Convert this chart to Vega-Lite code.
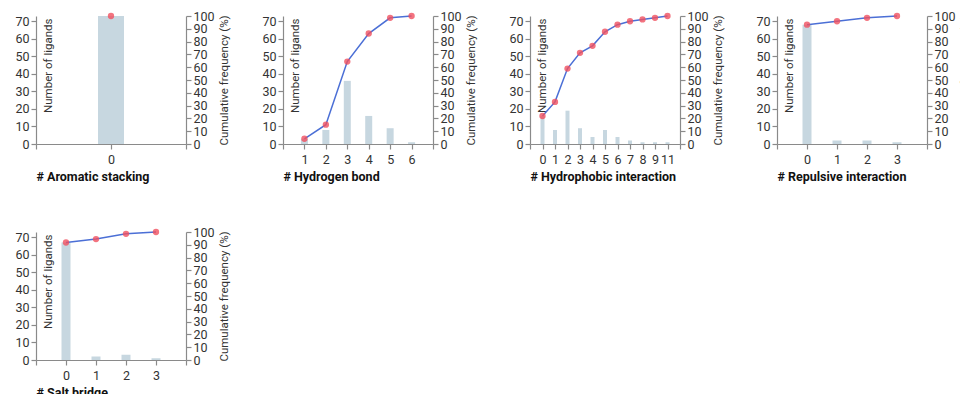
{
  "$schema": "https://vega.github.io/schema/vega-lite/v6.json",
  "padding": {"left": 14, "top": 10, "right": 5, "bottom": 5},
  "columns": 4,
  "spacing": {"row": 43, "column": 31},
  "config": {
    "view": {"stroke": null},
    "font": "Roboto, sans-serif",
    "axis": {
      "grid": false,
      "domainColor": "#8a8a8a",
      "tickColor": "#8a8a8a",
      "domainWidth": 1.2,
      "tickWidth": 1.2,
      "tickSize": 5,
      "labelFont": "Roboto, sans-serif",
      "labelFontSize": 12.5,
      "labelColor": "#333333",
      "labelPadding": 2,
      "titleFont": "Roboto, sans-serif",
      "titleFontWeight": "normal",
      "titleFontSize": 11.5,
      "titleColor": "#333333"
    }
  },
  "concat": [
    {
      "width": 150, "height": 128,
      "data": {"values": [{"n": "0", "count": 73, "cum": 100}]},
      "encoding": {"x": {"field": "n", "type": "ordinal", "sort": null,
        "scale": {"type": "point", "padding": 0, "domain": ["L", "0", "R"]},
        "axis": {"title": "# Aromatic stacking", "labelAngle": 0, "labelPadding": 4, "labelExpr": "datum.value == 'L' || datum.value == 'R' ? '' : datum.label", "titleFontWeight": "bold", "titleColor": "#111111", "titleFontSize": 12.5, "titleAnchor": "start", "titleAlign": "left", "titlePadding": 5}}},
      "layer": [
        {"mark": {"type": "bar", "size": 26, "color": "#c7d7e0"},
         "encoding": {"y": {"field": "count", "type": "quantitative", "scale": {"domain": [0, 73], "nice": false},
           "axis": {"values": [0, 10, 20, 30, 40, 50, 60, 70], "title": "Number of ligands", "titleAngle": -90, "titleX": 6, "titleY": 2, "titleAlign": "right", "titleBaseline": "top"}}}},
        {"encoding": {"y": {"field": "cum", "type": "quantitative", "scale": {"domain": [0, 100], "nice": false},
           "axis": {"orient": "right", "values": [0, 10, 20, 30, 40, 50, 60, 70, 80, 90, 100], "title": "Cumulative frequency (%)", "titleAngle": -90, "titleBaseline": "top", "titlePadding": 4}}},
         "layer": [
          {"mark": {"type": "line", "color": "#4b6fd6", "strokeWidth": 1.5}},
          {"mark": {"type": "point", "filled": true, "color": "#f0505f", "opacity": 0.8, "size": 40}}
         ]}
      ],
      "resolve": {"scale": {"y": "independent"}}
    },
    {
      "width": 150, "height": 128,
      "data": {"values": [
        {"n": "1", "count": 3, "cum": 4.1},
        {"n": "2", "count": 8, "cum": 15.1},
        {"n": "3", "count": 36, "cum": 64.4},
        {"n": "4", "count": 16, "cum": 86.3},
        {"n": "5", "count": 9, "cum": 98.6},
        {"n": "6", "count": 1, "cum": 100}
      ]},
      "encoding": {"x": {"field": "n", "type": "ordinal", "sort": null,
        "scale": {"type": "point", "padding": 0, "domain": ["L", "1", "2", "3", "4", "5", "6", "R"]},
        "axis": {"title": "# Hydrogen bond", "labelAngle": 0, "labelPadding": 4, "labelExpr": "datum.value == 'L' || datum.value == 'R' ? '' : datum.label", "titleFontWeight": "bold", "titleColor": "#111111", "titleFontSize": 12.5, "titleAnchor": "start", "titleAlign": "left", "titlePadding": 5}}},
      "layer": [
        {"mark": {"type": "bar", "size": 7, "color": "#c7d7e0"},
         "encoding": {"y": {"field": "count", "type": "quantitative", "scale": {"domain": [0, 73], "nice": false},
           "axis": {"values": [0, 10, 20, 30, 40, 50, 60, 70], "title": "Number of ligands", "titleAngle": -90, "titleX": 6, "titleY": 2, "titleAlign": "right", "titleBaseline": "top"}}}},
        {"encoding": {"y": {"field": "cum", "type": "quantitative", "scale": {"domain": [0, 100], "nice": false},
           "axis": {"orient": "right", "values": [0, 10, 20, 30, 40, 50, 60, 70, 80, 90, 100], "title": "Cumulative frequency (%)", "titleAngle": -90, "titleBaseline": "top", "titlePadding": 4}}},
         "layer": [
          {"mark": {"type": "line", "color": "#4b6fd6", "strokeWidth": 1.5}},
          {"mark": {"type": "point", "filled": true, "color": "#f0505f", "opacity": 0.8, "size": 40}}
         ]}
      ],
      "resolve": {"scale": {"y": "independent"}}
    },
    {
      "width": 150, "height": 128,
      "data": {"values": [
        {"n": "0", "count": 16, "cum": 21.9},
        {"n": "1", "count": 8, "cum": 32.9},
        {"n": "2", "count": 19, "cum": 58.9},
        {"n": "3", "count": 9, "cum": 71.2},
        {"n": "4", "count": 4, "cum": 76.7},
        {"n": "5", "count": 8, "cum": 87.7},
        {"n": "6", "count": 4, "cum": 93.2},
        {"n": "7", "count": 2, "cum": 95.9},
        {"n": "8", "count": 1, "cum": 97.3},
        {"n": "9", "count": 1, "cum": 98.6},
        {"n": "11", "count": 1, "cum": 100}
      ]},
      "encoding": {"x": {"field": "n", "type": "ordinal", "sort": null,
        "scale": {"type": "point", "padding": 0, "domain": ["L", "0", "1", "2", "3", "4", "5", "6", "7", "8", "9", "11", "R"]},
        "axis": {"title": "# Hydrophobic interaction", "labelAngle": 0, "labelPadding": 4, "labelExpr": "datum.value == 'L' || datum.value == 'R' ? '' : datum.label", "titleFontWeight": "bold", "titleColor": "#111111", "titleFontSize": 12.5, "titleAnchor": "start", "titleAlign": "left", "titlePadding": 5}}},
      "layer": [
        {"mark": {"type": "bar", "size": 4, "color": "#c7d7e0"},
         "encoding": {"y": {"field": "count", "type": "quantitative", "scale": {"domain": [0, 73], "nice": false},
           "axis": {"values": [0, 10, 20, 30, 40, 50, 60, 70], "title": "Number of ligands", "titleAngle": -90, "titleX": 6, "titleY": 2, "titleAlign": "right", "titleBaseline": "top"}}}},
        {"encoding": {"y": {"field": "cum", "type": "quantitative", "scale": {"domain": [0, 100], "nice": false},
           "axis": {"orient": "right", "values": [0, 10, 20, 30, 40, 50, 60, 70, 80, 90, 100], "title": "Cumulative frequency (%)", "titleAngle": -90, "titleBaseline": "top", "titlePadding": 4}}},
         "layer": [
          {"mark": {"type": "line", "color": "#4b6fd6", "strokeWidth": 1.5}},
          {"mark": {"type": "point", "filled": true, "color": "#f0505f", "opacity": 0.8, "size": 40}}
         ]}
      ],
      "resolve": {"scale": {"y": "independent"}}
    },
    {
      "width": 150, "height": 128,
      "data": {"values": [
        {"n": "0", "count": 68, "cum": 93.2},
        {"n": "1", "count": 2, "cum": 95.9},
        {"n": "2", "count": 2, "cum": 98.6},
        {"n": "3", "count": 1, "cum": 100}
      ]},
      "encoding": {"x": {"field": "n", "type": "ordinal", "sort": null,
        "scale": {"type": "point", "padding": 0, "domain": ["L", "0", "1", "2", "3", "R"]},
        "axis": {"title": "# Repulsive interaction", "labelAngle": 0, "labelPadding": 4, "labelExpr": "datum.value == 'L' || datum.value == 'R' ? '' : datum.label", "titleFontWeight": "bold", "titleColor": "#111111", "titleFontSize": 12.5, "titleAnchor": "start", "titleAlign": "left", "titlePadding": 5}}},
      "layer": [
        {"mark": {"type": "bar", "size": 9, "color": "#c7d7e0"},
         "encoding": {"y": {"field": "count", "type": "quantitative", "scale": {"domain": [0, 73], "nice": false},
           "axis": {"values": [0, 10, 20, 30, 40, 50, 60, 70], "title": "Number of ligands", "titleAngle": -90, "titleX": 6, "titleY": 2, "titleAlign": "right", "titleBaseline": "top"}}}},
        {"encoding": {"y": {"field": "cum", "type": "quantitative", "scale": {"domain": [0, 100], "nice": false},
           "axis": {"orient": "right", "values": [0, 10, 20, 30, 40, 50, 60, 70, 80, 90, 100], "title": "Cumulative frequency (%)", "titleAngle": -90, "titleBaseline": "top", "titlePadding": 4}}},
         "layer": [
          {"mark": {"type": "line", "color": "#4b6fd6", "strokeWidth": 1.5}},
          {"mark": {"type": "point", "filled": true, "color": "#f0505f", "opacity": 0.8, "size": 40}}
         ]}
      ],
      "resolve": {"scale": {"y": "independent"}}
    },
    {
      "width": 150, "height": 128,
      "data": {"values": [
        {"n": "0", "count": 67, "cum": 91.8},
        {"n": "1", "count": 2, "cum": 94.5},
        {"n": "2", "count": 3, "cum": 98.6},
        {"n": "3", "count": 1, "cum": 100}
      ]},
      "encoding": {"x": {"field": "n", "type": "ordinal", "sort": null,
        "scale": {"type": "point", "padding": 0, "domain": ["L", "0", "1", "2", "3", "R"]},
        "axis": {"title": "# Salt bridge", "labelAngle": 0, "labelPadding": 4, "labelExpr": "datum.value == 'L' || datum.value == 'R' ? '' : datum.label", "titleFontWeight": "bold", "titleColor": "#111111", "titleFontSize": 12.5, "titleAnchor": "start", "titleAlign": "left", "titlePadding": 5}}},
      "layer": [
        {"mark": {"type": "bar", "size": 9, "color": "#c7d7e0"},
         "encoding": {"y": {"field": "count", "type": "quantitative", "scale": {"domain": [0, 73], "nice": false},
           "axis": {"values": [0, 10, 20, 30, 40, 50, 60, 70], "title": "Number of ligands", "titleAngle": -90, "titleX": 6, "titleY": 2, "titleAlign": "right", "titleBaseline": "top"}}}},
        {"encoding": {"y": {"field": "cum", "type": "quantitative", "scale": {"domain": [0, 100], "nice": false},
           "axis": {"orient": "right", "values": [0, 10, 20, 30, 40, 50, 60, 70, 80, 90, 100], "title": "Cumulative frequency (%)", "titleAngle": -90, "titleBaseline": "top", "titlePadding": 4}}},
         "layer": [
          {"mark": {"type": "line", "color": "#4b6fd6", "strokeWidth": 1.5}},
          {"mark": {"type": "point", "filled": true, "color": "#f0505f", "opacity": 0.8, "size": 40}}
         ]}
      ],
      "resolve": {"scale": {"y": "independent"}}
    }
  ]
}
